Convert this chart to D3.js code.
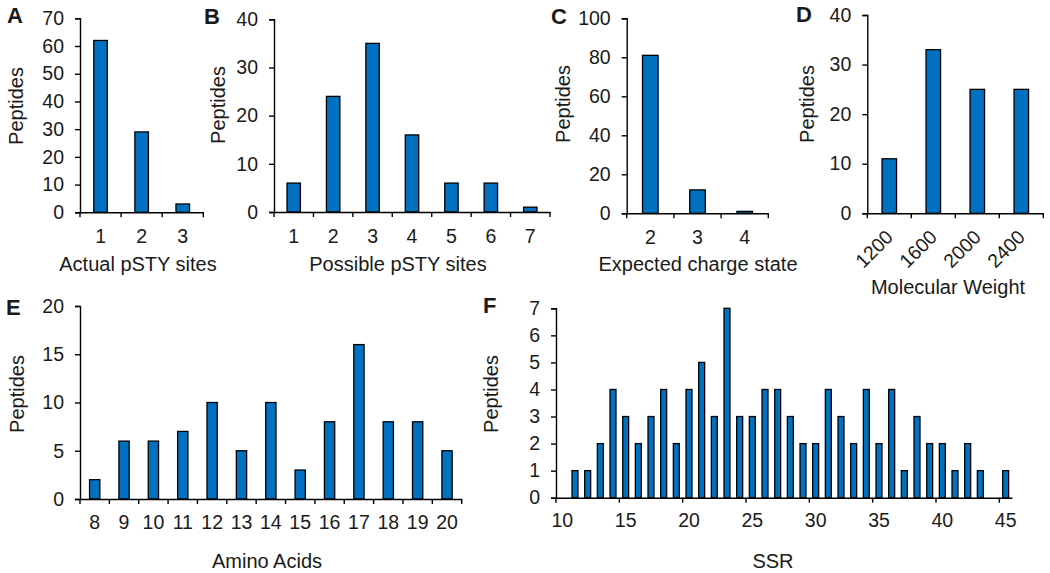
<!DOCTYPE html>
<html>
<head>
<meta charset="utf-8">
<script src="https://cdn.jsdelivr.net/npm/d3@7"></script>
<style>
  body { margin: 0; background: #fff; }
  svg text { font-family: "Liberation Sans", Arial, sans-serif; fill: #1a1a1a; }
</style>
</head>
<body>
<svg id="chart" width="1050" height="573"></svg>
<script>
// panel data
const actualSites = [1, 2, 3];
const actualCounts = [62, 29, 3];

const possibleSites = [1, 2, 3, 4, 5, 6, 7];
const possibleCounts = [6, 24, 35, 16, 6, 6, 1];

const chargeStates = [2, 3, 4];
const chargeCounts = [81, 12, 1];

const weights = [1200, 1600, 2000, 2400];
const weightCounts = [11, 33, 25, 25];

const aminoAcids = [8, 9, 10, 11, 12, 13, 14, 15, 16, 17, 18, 19, 20];
const aminoCounts = [2, 6, 6, 7, 10, 5, 10, 3, 8, 16, 8, 8, 5];

const ssrBins = d3.range(10, 46);
const ssrCounts = [0, 1, 1, 2, 4, 3, 2, 3, 4, 2, 4, 5, 3, 7, 3, 3, 4, 4, 3,
  2, 2, 4, 3, 2, 4, 2, 4, 1, 3, 2, 2, 1, 2, 1, 0, 1];
const ssrLabels = [10, 15, 20, 25, 30, 35, 40, 45];

const BLUE = "#0070c0";
const svg = d3.select("#chart");

const drawPanel = (p) => {
  const g = svg.append("g");
  const x = d3.scaleBand().domain(p.cats).range(p.xRange).padding(0);
  const y = d3.scaleLinear().domain([0, p.yMax]).range(p.yRange);
  const bw = x.bandwidth();
  const w = bw * p.barFrac;

  // bars
  g.selectAll("rect")
    .data(p.cats.map((c, i) => ({ c, v: p.vals[i] })).filter((d) => d.v > 0))
    .enter()
    .append("rect")
    .attr("x", (d) => x(d.c) + (bw - w) / 2)
    .attr("y", (d) => y(d.v))
    .attr("width", w)
    .attr("height", (d) => y(0) - y(d.v))
    .attr("fill", BLUE)
    .attr("stroke", "#000")
    .attr("stroke-width", 1.3);

  // y axis
  const yAxis = g.append("g")
    .attr("transform", `translate(${p.xRange[0]},0)`)
    .call(d3.axisLeft(y)
      .tickValues(d3.range(0, p.yMax + 1, p.yStep))
      .tickFormat(d3.format("d"))
      .tickSize(5)
      .tickPadding(11));

  // x axis (labels centred on bars, ticks on category edges)
  const xAxis = g.append("g")
    .attr("transform", `translate(0,${p.yRange[0]})`)
    .call(d3.axisBottom(x).tickValues(p.labels || p.cats).tickSize(0).tickPadding(p.xPad || 15));

  const edges = (p.tickCats || p.cats).map((c) => x(c));
  if (!p.tickCats) edges.push(p.xRange[1]);
  xAxis.selectAll("line.edge")
    .data(edges)
    .enter()
    .append("line")
    .attr("class", "edge")
    .attr("x1", (d) => d)
    .attr("x2", (d) => d)
    .attr("y1", 0)
    .attr("y2", 5);

  [yAxis, xAxis].forEach((a) => {
    a.selectAll("path, line").attr("stroke", "#000").attr("stroke-width", 1.4);
    a.selectAll("text").style("font-size", "19.5px").attr("fill", "#1a1a1a");
  });

  if (p.rotate) {
    xAxis.selectAll(".tick text")
      .attr("text-anchor", "end")
      .attr("x", 0)
      .attr("y", 0)
      .attr("dy", 0)
      .attr("transform", "translate(5,25) rotate(-45)");
  }

  // titles
  g.append("text")
    .attr("x", p.titleX)
    .attr("y", p.titleY)
    .attr("text-anchor", "middle")
    .style("font-size", "20px")
    .text(p.title);

  g.append("text")
    .attr("transform", `translate(${p.ylabX},${p.ylabY}) rotate(-90)`)
    .attr("text-anchor", "middle")
    .style("font-size", "20px")
    .text("Peptides");

  g.append("text")
    .attr("x", p.letterX)
    .attr("y", p.letterY)
    .style("font-size", "22px")
    .style("font-weight", "bold")
    .text(p.letter);
};

drawPanel({
  letter: "A", letterX: 7, letterY: 23,
  cats: actualSites, vals: actualCounts, xPad: 17,
  xRange: [80, 203.3], yRange: [212.3, 18.3], yMax: 70, yStep: 10, barFrac: 0.33,
  title: "Actual pSTY sites", titleX: 138, titleY: 271,
  ylabX: 23, ylabY: 106,
});

drawPanel({
  letter: "B", letterX: 204, letterY: 24,
  cats: possibleSites, vals: possibleCounts, xPad: 17,
  xRange: [274, 550], yRange: [212, 19.3], yMax: 40, yStep: 10, barFrac: 0.34,
  title: "Possible pSTY sites", titleX: 398, titleY: 271,
  ylabX: 225, ylabY: 105,
});

drawPanel({
  letter: "C", letterX: 551, letterY: 24,
  cats: chargeStates, vals: chargeCounts, xPad: 17,
  xRange: [626.7, 768.3], yRange: [213.3, 18.3], yMax: 100, yStep: 20, barFrac: 0.33,
  title: "Expected charge state", titleX: 698, titleY: 271,
  ylabX: 570, ylabY: 104,
});

drawPanel({
  letter: "D", letterX: 796, letterY: 22,
  cats: weights, vals: weightCounts,
  xRange: [867.3, 1043.3], yRange: [213.3, 15], yMax: 40, yStep: 10, barFrac: 0.33,
  title: "Molecular Weight", titleX: 948, titleY: 294, rotate: true,
  ylabX: 814, ylabY: 104,
});

drawPanel({
  letter: "E", letterX: 6, letterY: 315,
  cats: aminoAcids, vals: aminoCounts, xPad: 16,
  xRange: [80, 461.7], yRange: [499, 306], yMax: 20, yStep: 5, barFrac: 0.35,
  title: "Amino Acids", titleX: 267, titleY: 568,
  ylabX: 24, ylabY: 394,
});

drawPanel({
  letter: "F", letterX: 483, letterY: 313,
  cats: ssrBins, vals: ssrCounts, labels: ssrLabels, tickCats: ssrLabels,
  xRange: [556, 1012], yRange: [497.7, 308.3], yMax: 7, yStep: 1, barFrac: 0.47,
  title: "SSR", titleX: 773, titleY: 568,
  ylabX: 498, ylabY: 394,
});
</script>
</body>
</html>
